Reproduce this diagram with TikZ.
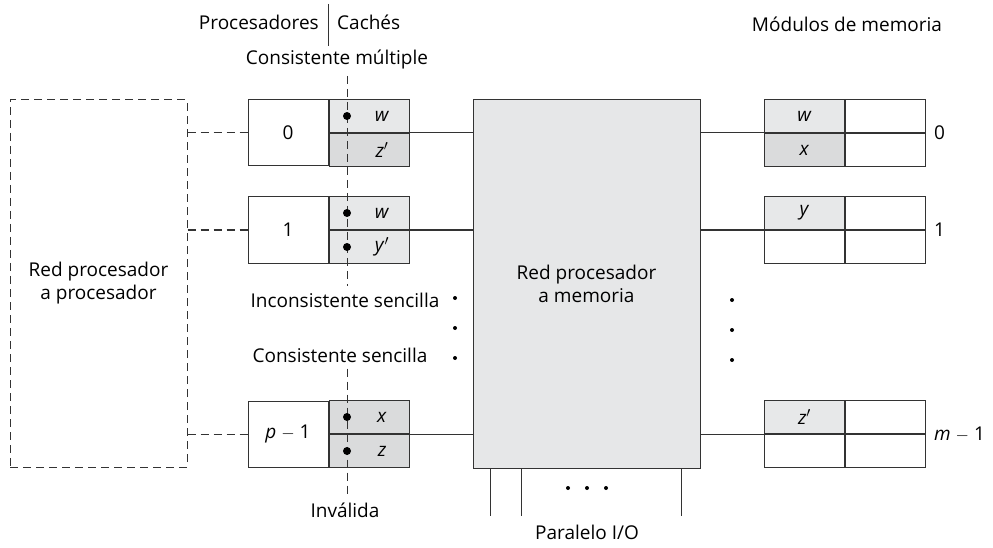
\documentclass[tikz,border=0pt]{standalone}
\usepackage{fontspec}
\setmainfont{Open Sans}
\usepackage{tikz}
\usetikzlibrary{positioning}
\definecolor{cachelight}{HTML}{E7E8E9}
\definecolor{cachedark}{HTML}{DADBDC}
\definecolor{netgray}{HTML}{E6E7E8}
\definecolor{inkgray}{HTML}{333333}

\begin{document}
\begin{tikzpicture}[
      x=1pt, y=-1pt,
      font=\fontsize{19}{23}\selectfont,
      link/.style={draw=inkgray, line width=1pt},
      dashline/.style={link, dash pattern=on 8pt off 5pt},
      procbox/.style={rectangle, draw=inkgray, line width=1pt, fill=white,
                      minimum width=80pt, minimum height=66pt, inner sep=0pt},
      cell/.style={rectangle, draw=inkgray, line width=1pt,
                   minimum width=80pt, minimum height=33pt, inner sep=0pt},
      netbox/.style={rectangle, draw=inkgray, line width=1pt, fill=netgray,
                     minimum width=227pt, minimum height=368pt, align=center},
      lbl/.style={inner sep=1pt, align=center, text=black},
      bit/.style={circle, fill=black, inner sep=0pt, minimum size=8pt}
    ]
    \useasboundingbox (0,0) rectangle (993,548);

    % processor-to-processor network
    \node[netbox, fill=white, minimum width=177pt, minimum height=367pt,
          dashline] (ptop) at (98.5,283.5) {Red procesador\\a procesador};

    % processors and caches
    \node[procbox] (proc0) at (288,133) {0};
    \node[cell, fill=cachelight, anchor=south west] (c0a) at (proc0.east) {};
    \node[cell, fill=cachedark, anchor=north west] (c0b) at (proc0.east) {};
    \node[procbox] (proc1) at (288,230) {1};
    \node[cell, fill=cachelight, anchor=south west] (c1a) at (proc1.east) {};
    \node[cell, fill=cachelight, anchor=north west] (c1b) at (proc1.east) {};
    \node[procbox] (procp) at (288,434) {\textit{p} $-$ 1};
    \node[cell, fill=cachedark, anchor=south west] (cpa) at (procp.east) {};
    \node[cell, fill=cachedark, anchor=north west] (cpb) at (procp.east) {};

    \node[lbl] at ([xshift=13pt]c0a.center) {\textit{w}};
    \node[lbl] at ([xshift=13pt]c0b.center) {\textit{z}$'$};
    \node[lbl] at ([xshift=13pt]c1a.center) {\textit{w}};
    \node[lbl] at ([xshift=13pt]c1b.center) {\textit{y}$'$};
    \node[lbl] at ([xshift=13pt]cpa.center) {\textit{x}};
    \node[lbl] at ([xshift=13pt]cpb.center) {\textit{z}};

    % processor-to-memory network
    \node[netbox] (pmem) at (586.5,284) {Red procesador\\a memoria};

    % memory modules
    \node[cell, fill=cachelight, anchor=south west] (m0a) at (764,133) {\textit{w}};
    \node[cell, anchor=west] (m0c) at (m0a.east) {};
    \node[cell, fill=cachedark, anchor=north west] (m0b) at (764,133) {\textit{x}};
    \node[cell, anchor=west] (m0d) at (m0b.east) {};
    \node[cell, fill=cachelight, anchor=south west] (m1a) at (764,230) {\textit{y}};
    \node[cell, anchor=west] (m1c) at (m1a.east) {};
    \node[cell, anchor=north west] (m1b) at (764,230) {};
    \node[cell, anchor=west] (m1d) at (m1b.east) {};
    \node[cell, fill=cachelight, anchor=south west] (mma) at (764,434) {\textit{z}$'$};
    \node[cell, anchor=west] (mmc) at (mma.east) {};
    \node[cell, anchor=north west] (mmb) at (764,434) {};
    \node[cell, anchor=west] (mmd) at (mmb.east) {};

    \node[lbl, anchor=west] (mlab0) at ([xshift=7pt]m0c.south east) {0};
    \node[lbl, anchor=west] (mlab1) at ([xshift=7pt]m1c.south east) {1};
    \node[lbl, anchor=west] (mlabm) at ([xshift=7pt]mmc.south east) {\textit{m} $-$ 1};

    % links
    \draw[dashline] (ptop.east |- proc0) -- (proc0.west);
    \draw[dashline] (ptop.east |- proc1) -- (proc1.west);
    \draw[dashline] (ptop.east |- procp) -- (procp.west);
    \draw[link] (c0a.south east) -- (pmem.west |- c0a.south east);
    \draw[link] (c1a.south east) -- (pmem.west |- c1a.south east);
    \draw[link] (cpa.south east) -- (pmem.west |- cpa.south east);
    \draw[link] (pmem.east |- m0a.south west) -- (m0a.south west);
    \draw[link] (pmem.east |- m1a.south west) -- (m1a.south west);
    \draw[link] (pmem.east |- mma.south west) -- (mma.south west);

    % parallel I/O
    \coordinate (io1) at (490,516);
    \coordinate (io2) at (521,516);
    \coordinate (io3) at (681,516);
    \draw[link] (pmem.south -| io1) -- (io1);
    \draw[link] (pmem.south -| io2) -- (io2);
    \draw[link] (pmem.south -| io3) -- (io3);
    \foreach \dx in {568,587,606} \fill[black] (\dx,488) circle (2pt);
    \node[lbl] (pio) at (587,532) {Paralelo I/O};

    % ellipsis dots
    \foreach \dy in {298,328,358} \fill[black] (455,\dy) circle (2pt);
    \foreach \dy in {300,330,360} \fill[black] (732,\dy) circle (2pt);

    % headings
    \node[lbl, anchor=east] (hproc) at (320,22) {Procesadores};
    \node[lbl, anchor=west] (hcache) at (336,22) {Cachés};
    \draw[link] (hproc.east |- 0,4) ++(8,0) -- ++(0,42);
    \node[lbl] (hmem) at (847,24) {Módulos de memoria};

    % states
    \node[lbl] (smul) at (337,60) {Consistente múltiple};
    \node[lbl] (sinc) at (345,300) {Inconsistente sencilla};
    \node[lbl] (scon) at (340,355) {Consistente sencilla};
    \node[lbl] (sinv) at (345,510) {Inválida};
    \coordinate (stem) at (347,0);
    \draw[dashline] ([yshift=-5pt]smul.south -| stem) -- ([yshift=5pt]sinc.north -| stem);
    \draw[dashline] ([yshift=-5pt]scon.south -| stem) -- ([yshift=5pt]sinv.north -| stem);
    \node[bit] at (c0a.center -| stem) {};
    \node[bit] at (c1a.center -| stem) {};
    \node[bit] at (c1b.center -| stem) {};
    \node[bit] at (cpa.center -| stem) {};
    \node[bit] at (cpb.center -| stem) {};
  \end{tikzpicture}
\end{document}
